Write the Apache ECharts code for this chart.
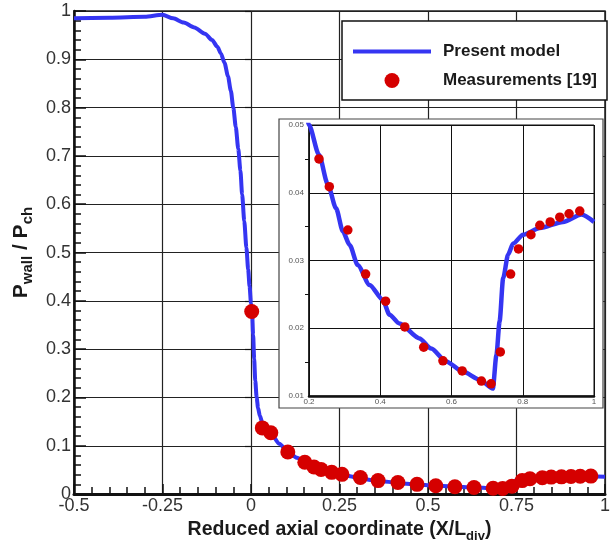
<!DOCTYPE html>
<html>
<head>
<meta charset="utf-8">
<script src="https://cdn.jsdelivr.net/npm/echarts@6/dist/echarts.min.js"></script>
<style>
html,body{margin:0;padding:0;background:#fff;}
#c{width:613px;height:548px;}
</style>
</head>
<body>
<div id="c"></div>
<script>
// Model curve (Present model)
const modelX = [-0.5, -0.4, -0.3, -0.25, -0.22, -0.19, -0.16, -0.13, -0.11, -0.095, -0.085, -0.075, -0.065, -0.057, -0.05, -0.043, -0.036, -0.03, -0.025, -0.019, -0.013, -0.008, -0.004, 0.0, 0.003, 0.006, 0.009, 0.012, 0.016, 0.02, 0.025, 0.032, 0.042, 0.056, 0.08, 0.105, 0.13, 0.156, 0.18, 0.2, 0.228, 0.253, 0.276, 0.295, 0.314, 0.337, 0.37, 0.407, 0.426, 0.454, 0.51, 0.543, 0.585, 0.632, 0.679, 0.716, 0.726, 0.735, 0.745, 0.759, 0.773, 0.801, 0.848, 0.913, 0.965, 1.0];
const modelY = [0.985, 0.986, 0.988, 0.992, 0.985, 0.976, 0.966, 0.953, 0.940, 0.926, 0.912, 0.893, 0.865, 0.835, 0.80, 0.76, 0.715, 0.67, 0.62, 0.565, 0.51, 0.465, 0.43, 0.395, 0.378, 0.33, 0.28, 0.235, 0.20, 0.178, 0.162, 0.148, 0.136, 0.126, 0.104, 0.087, 0.075, 0.065, 0.056, 0.05, 0.0456, 0.0412, 0.0377, 0.0343, 0.0323, 0.0293, 0.0264, 0.0242, 0.0220, 0.0207, 0.0185, 0.0170, 0.0151, 0.0136, 0.0124, 0.0111, 0.0160, 0.0210, 0.0274, 0.0309, 0.0325, 0.0338, 0.0348, 0.0357, 0.0368, 0.0357];
// Measurements [19]
const measX = [0.002, 0.032, 0.056, 0.104, 0.152, 0.178, 0.198, 0.228, 0.257, 0.309, 0.359, 0.415, 0.469, 0.522, 0.576, 0.630, 0.684, 0.711, 0.737, 0.766, 0.788, 0.823, 0.848, 0.877, 0.904, 0.930, 0.960];
const measY = [0.378, 0.137, 0.127, 0.087, 0.066, 0.056, 0.051, 0.045, 0.0409, 0.0345, 0.028, 0.024, 0.0202, 0.0172, 0.0152, 0.0137, 0.0122, 0.0118, 0.0165, 0.028, 0.0317, 0.0338, 0.0352, 0.0357, 0.0364, 0.0369, 0.0373];

const FONT = '"Liberation Sans", Arial, sans-serif';
const BLUE = '#3535f2';
const RED = '#d50000';

const modelData = modelX.map((x, i) => [x, modelY[i]]);
const measData = measX.map((x, i) => [x, measY[i]]);

const chart = echarts.init(document.getElementById('c'), null, {renderer: 'canvas'});
chart.setOption({
  animation: false,
  backgroundColor: '#fff',
  textStyle: {fontFamily: FONT},
  graphic: [{
    type: 'rect', z: 5, silent: true,
    shape: {x: 279, y: 119, width: 324, height: 289},
    style: {fill: '#fff', stroke: '#444', lineWidth: 1.2}
  }],
  legend: {
    data: [
      {name: 'Present model', icon: 'path://M0,0H78V4H0Z'},
      {name: 'Measurements [19]', icon: 'circle'}
    ],
    orient: 'vertical',
    left: 342, top: 21,
    padding: [22, 10, 11, 11],
    itemWidth: 78, itemHeight: 15, itemGap: 12,
    symbolKeepAspect: true,
    backgroundColor: '#fff',
    borderColor: '#111', borderWidth: 1.5,
    textStyle: {fontFamily: FONT, fontSize: 17, fontWeight: 'bold', color: '#1a1a1a', lineHeight: 15, padding: [0, 0, 0, 7]},
    z: 10
  },
  grid: [
    {left: 74, right: 2, top: 11, bottom: 50, show: true, borderColor: '#222', borderWidth: 1.5, backgroundColor: 'transparent'},
    {left: 309, right: 19, top: 125, bottom: 152, show: true, borderColor: '#111', borderWidth: 1, backgroundColor: 'transparent', z: 6}
  ],
  xAxis: [
    {
      type: 'value', gridIndex: 0, min: -0.5, max: 1, interval: 0.25,
      name: '{b|Reduced axial coordinate (X/L}{s|div}{b|)}',
      nameLocation: 'middle', nameGap: 18,
      nameTextStyle: {rich: {
        b: {fontFamily: FONT, fontSize: 19.5, fontWeight: 'bold', color: '#1a1a1a', lineHeight: 26, verticalAlign: 'middle'},
        s: {fontFamily: FONT, fontSize: 13, fontWeight: 'bold', color: '#1a1a1a', lineHeight: 26, verticalAlign: 'bottom'}
      }},
      axisLine: {show: true, onZero: false, lineStyle: {color: '#111', width: 3}},
      axisTick: {show: true, inside: true, length: 10, lineStyle: {color: '#111', width: 1.5}},
      minorTick: {show: true, splitNumber: 5, length: 7, lineStyle: {color: '#111', width: 1.5}},
      axisLabel: {fontFamily: FONT, fontSize: 18, color: '#333', margin: 3},
      splitLine: {show: true, lineStyle: {color: '#222', width: 1.2}}
    },
    {
      type: 'value', gridIndex: 1, min: 0.2, max: 1, interval: 0.2, z: 7,
      axisLine: {show: true, onZero: false, lineStyle: {color: '#111', width: 2.5}},
      axisTick: {show: false},
      axisLabel: {fontFamily: FONT, fontSize: 8, color: '#555', margin: 2},
      splitLine: {show: true, lineStyle: {color: '#111', width: 1}}
    }
  ],
  yAxis: [
    {
      type: 'value', gridIndex: 0, min: 0, max: 1, interval: 0.1,
      name: '{b|P}{s|wall}{b| / P}{s|ch}',
      nameLocation: 'middle', nameGap: 34,
      nameTextStyle: {rich: {
        b: {fontFamily: FONT, fontSize: 21, fontWeight: 'bold', color: '#1a1a1a', lineHeight: 27, verticalAlign: 'middle'},
        s: {fontFamily: FONT, fontSize: 15, fontWeight: 'bold', color: '#1a1a1a', lineHeight: 27, verticalAlign: 'bottom'}
      }},
      axisLine: {show: true, onZero: false, lineStyle: {color: '#111', width: 2.5}},
      axisTick: {show: true, inside: true, length: 12, lineStyle: {color: '#111', width: 1.5}},
      minorTick: {show: true, splitNumber: 5, length: 7, lineStyle: {color: '#111', width: 1.5}},
      axisLabel: {fontFamily: FONT, fontSize: 18, color: '#333', margin: 3},
      splitLine: {show: true, lineStyle: {color: '#222', width: 1.2}}
    },
    {
      type: 'value', gridIndex: 0, min: 0, max: 1, interval: 0.1, position: 'right',
      axisLine: {show: false},
      axisTick: {show: true, inside: true, length: 6, lineStyle: {color: '#111', width: 1.2}},
      axisLabel: {show: false},
      splitLine: {show: false}
    },
    {
      type: 'value', gridIndex: 1, min: 0.01, max: 0.05, interval: 0.01, z: 7,
      axisLine: {show: true, onZero: false, lineStyle: {color: '#111', width: 1.5}},
      axisTick: {show: false},
      minorTick: {show: true, splitNumber: 2, length: 4, lineStyle: {color: '#111', width: 1}},
      axisLabel: {fontFamily: FONT, fontSize: 8, color: '#555', margin: 5},
      splitLine: {show: true, lineStyle: {color: '#111', width: 1}}
    }
  ],
  series: [
    {
      name: 'Present model', type: 'line', xAxisIndex: 0, yAxisIndex: 0,
      data: modelData, symbol: 'none', showSymbol: false, clip: true,
      smooth: 0.25, smoothMonotone: 'x',
      lineStyle: {color: BLUE, width: 4}, itemStyle: {color: BLUE}, z: 2
    },
    {
      name: 'Measurements [19]', type: 'scatter', xAxisIndex: 0, yAxisIndex: 0,
      data: measData, symbol: 'circle', symbolSize: 15,
      itemStyle: {color: RED, opacity: 1}, z: 3
    },
    {
      name: 'Present model', type: 'line', xAxisIndex: 1, yAxisIndex: 2,
      data: modelData, symbol: 'none', showSymbol: false, clip: true,
      smooth: 0.25, smoothMonotone: 'x',
      lineStyle: {color: BLUE, width: 4.5}, itemStyle: {color: BLUE}, z: 8
    },
    {
      name: 'Measurements [19]', type: 'scatter', xAxisIndex: 1, yAxisIndex: 2,
      data: measData, symbol: 'circle', symbolSize: 9.5, clip: true,
      itemStyle: {color: RED, opacity: 1}, z: 9
    }
  ]
});
</script>
</body>
</html>
